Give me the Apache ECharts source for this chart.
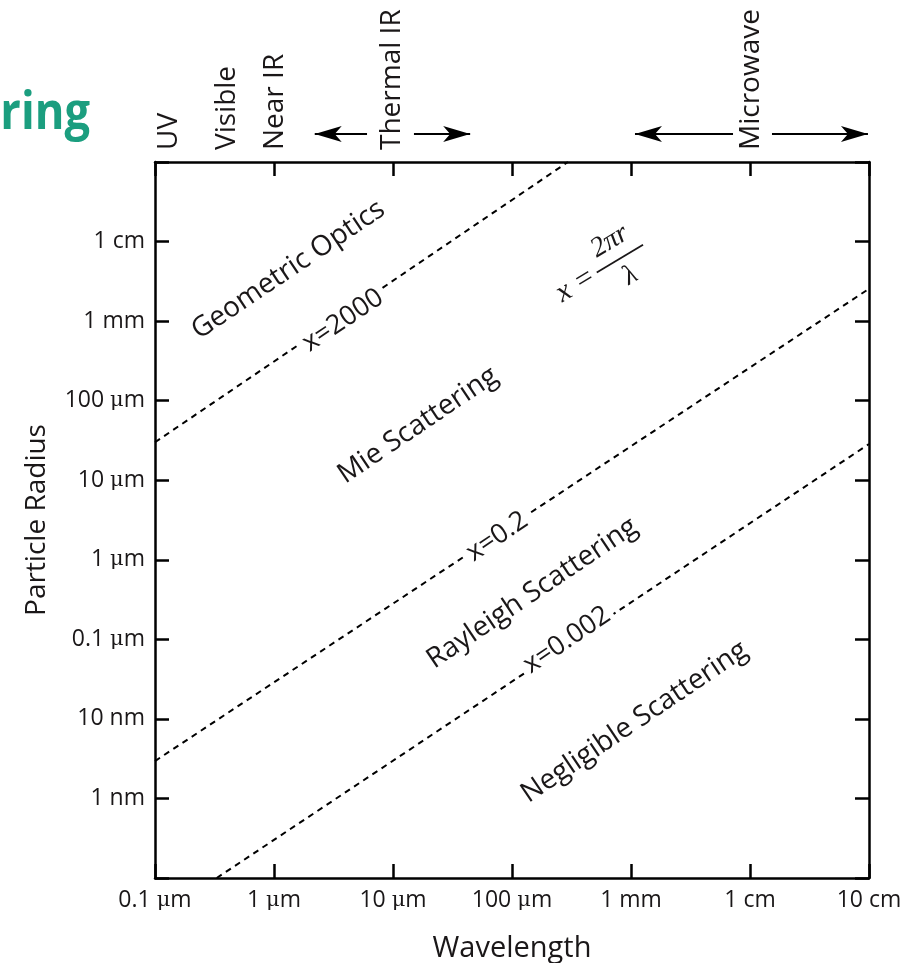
<!DOCTYPE html>
<html><head><meta charset="utf-8">
<script src="https://cdn.jsdelivr.net/npm/echarts@6/dist/echarts.min.js"></script>
<style>html,body{margin:0;padding:0;background:#fff}#c{width:904px;height:963px}</style>
</head><body><div id="c"></div>
<script>
// ---- data ----
const wavelengthExp = [-7, -6, -5, -4, -3, -2, -1];
const wavelengthTickLabels = ['0.1 {mu|μ}m', '1 {mu|μ}m', '10 {mu|μ}m', '100 {mu|μ}m', '1 mm', '1 cm', '10 cm'];
const radiusExp = [-10, -9, -8, -7, -6, -5, -4, -3, -2, -1];
const radiusTickLabels = ['', '1 nm', '10 nm', '0.1 {mu|μ}m', '1 {mu|μ}m', '10 {mu|μ}m', '100 {mu|μ}m', '1 mm', '1 cm', ''];

// boundary lines (wavelength [m], radius [m])
const lineX2000 = [[1e-7, 3.0e-5], [2.95e-4, 0.1]];
const lineX02 = [[1e-7, 2.95e-9], [0.1, 2.55e-3]];
const lineX0002 = [[3.3e-7, 1e-10], [0.1, 2.85e-5]];

const regionNames = ['Geometric Optics', 'Mie Scattering', 'Rayleigh Scattering', 'Negligible Scattering'];
const regionPos = [[1.32e-6, 4.4e-3], [1.62e-5, 4.9e-5], [1.48e-4, 3.8e-7], [1.07e-3, 9.1e-9]];
const lineLabelNames = ['x=2000', 'x=0.2', 'x=0.002'];
const lineLabelPos = [[3.8e-6, 1.02e-3], [7.5e-5, 1.95e-6], [2.9e-4, 9.8e-8]];
const formulaPos = [5.6e-4, 4.4e-3];

// spectrum band labels (wavelength at label centre)
const bandNames = ['UV', 'Visible', 'Near IR', 'Thermal IR', 'Microwave'];
const bandPos = [1.3e-7, 4.0e-7, 1.02e-6, 9.8e-6, 1.02e-2];
// arrows [from, to] wavelength
const bandArrows = [[6.05e-6, 2.2e-6], [1.5e-5, 4.45e-5], [7.2e-3, 1.08e-3], [1.53e-2, 9.8e-2]];

// ---- chart ----
const FONT = 'Open Sans';
const TXT = '#1a1718';
const chart = echarts.init(document.getElementById('c'), null, {renderer: 'canvas'});
const axisLine = {show: true, onZero: false, lineStyle: {color: '#000', width: 2.5}};
const axisTick = {show: true, inside: true, length: 14, lineStyle: {color: '#000', width: 2.5}};
const muRich = {mu: {fontFamily: 'DejaVu Serif', fontSize: 21, color: TXT}};
function expOf(v) { return Math.round(Math.log10(v)); }
const arrowPath = 'path://M-28,-28L-28,-28M28,28L28,28M0,0L8,27L0,20L-8,27Z';
const serif = {fontFamily: 'Liberation Serif', fontStyle: 'italic', color: TXT};

chart.setOption({
  animation: false,
  backgroundColor: '#fff',
  textStyle: {fontFamily: FONT},
  grid: [
    {left: 155, right: 35, top: 162, bottom: 85, containLabel: false, outerBoundsMode: 'none'},
    {left: 155, right: 35, top: 0, height: 162, containLabel: false, outerBoundsMode: 'none'}
  ],
  xAxis: [
    {type: 'log', logBase: 10, min: 1e-7, max: 0.1, interval: 1, gridIndex: 0, position: 'bottom',
     axisLine, axisTick, splitLine: {show: false}, minorTick: {show: false},
     axisLabel: {show: true, margin: 11, fontSize: 23, color: TXT, fontFamily: FONT, rich: muRich,
       formatter: v => wavelengthTickLabels[wavelengthExp.indexOf(expOf(v))] || ''},
     name: 'Wavelength', nameLocation: 'middle', nameGap: 56,
     nameTextStyle: {fontSize: 29, color: TXT, fontFamily: FONT}},
    {type: 'log', logBase: 10, min: 1e-7, max: 0.1, interval: 1, gridIndex: 0, position: 'top',
     axisLine, axisTick, splitLine: {show: false}, axisLabel: {show: false}},
    {type: 'log', logBase: 10, min: 1e-7, max: 0.1, gridIndex: 1, show: false}
  ],
  yAxis: [
    {type: 'log', logBase: 10, min: 1e-10, max: 0.1, interval: 1, gridIndex: 0, position: 'left',
     axisLine, axisTick, splitLine: {show: false}, minorTick: {show: false},
     axisLabel: {show: true, margin: 10, fontSize: 23, color: TXT, fontFamily: FONT, rich: muRich,
       formatter: v => radiusTickLabels[radiusExp.indexOf(expOf(v))] || ''},
     name: 'Particle Radius', nameLocation: 'middle', nameGap: 104,
     nameTextStyle: {fontSize: 28, color: TXT, fontFamily: FONT}},
    {type: 'log', logBase: 10, min: 1e-10, max: 0.1, interval: 1, gridIndex: 0, position: 'right',
     axisLine, axisTick, splitLine: {show: false}, axisLabel: {show: false}},
    {type: 'value', min: 0, max: 1, gridIndex: 1, show: false}
  ],
  series: [
    ...[lineX2000, lineX02, lineX0002].map(d => ({
      type: 'line', xAxisIndex: 0, yAxisIndex: 0, data: d, symbol: 'none', z: 2,
      lineStyle: {color: '#000', width: 2, type: [6, 5]}
    })),
    {type: 'scatter', xAxisIndex: 0, yAxisIndex: 0, symbolSize: 0, z: 5, itemStyle: {opacity: 1},
     data: regionNames.map((n, i) => ({name: n, value: regionPos[i]})),
     label: {show: true, position: 'inside', formatter: '{b}', rotate: 34, fontSize: 28,
       color: TXT, fontFamily: FONT}},
    {type: 'scatter', xAxisIndex: 0, yAxisIndex: 0, symbolSize: 0, z: 5, itemStyle: {opacity: 1},
     data: lineLabelNames.map((n, i) => ({name: n, value: lineLabelPos[i]})),
     label: {show: true, position: 'inside', formatter: '{b}', rotate: 34, fontSize: 27,
       color: TXT, fontFamily: FONT, backgroundColor: '#fff', padding: [0, 4]}},
    {type: 'scatter', xAxisIndex: 0, yAxisIndex: 0, symbolSize: 0, z: 5, itemStyle: {opacity: 1},
     data: [{name: 'formula', value: formulaPos}],
     label: {show: true, position: 'inside', rotate: 31,
       formatter: '{s|}{n|2πr}\n{x|x =}{bar|}\n{s|}{d|λ}',
       rich: {
         s: {width: 44},
         x: Object.assign({width: 44, align: 'left', fontSize: 30, verticalAlign: 'middle', lineHeight: 12}, serif),
         n: Object.assign({width: 56, align: 'center', fontSize: 28, lineHeight: 28}, serif),
         bar: {width: 54, height: 1.8, backgroundColor: TXT, verticalAlign: 'middle', lineHeight: 12},
         d: Object.assign({width: 56, align: 'center', fontSize: 28, lineHeight: 28}, serif)
       }}},
    {type: 'scatter', xAxisIndex: 2, yAxisIndex: 2, symbolSize: 0, itemStyle: {opacity: 1},
     data: bandNames.map((n, i) => ({name: n, value: [bandPos[i], 0.074]})),
     label: {show: true, position: 'inside', formatter: '{b}', rotate: 90, align: 'left',
       verticalAlign: 'middle', fontSize: 28, color: TXT, fontFamily: FONT}},
    {type: 'lines', coordinateSystem: 'cartesian2d', xAxisIndex: 2, yAxisIndex: 2,
     symbol: ['none', arrowPath], symbolSize: 56,
     lineStyle: {color: '#000', width: 2, opacity: 1, curveness: 0},
     data: bandArrows.map(a => ({coords: [[a[0], 0.173], [a[1], 0.173]]}))}
  ],
  graphic: [
    {type: 'text', x: 90, y: 140, scaleX: 0.87,
     style: {text: 'Scattering', textAlign: 'right', textVerticalAlign: 'bottom',
       font: 'bold 52px "Open Sans"', fill: '#1b9e7f'}}
  ]
});
</script></body></html>
